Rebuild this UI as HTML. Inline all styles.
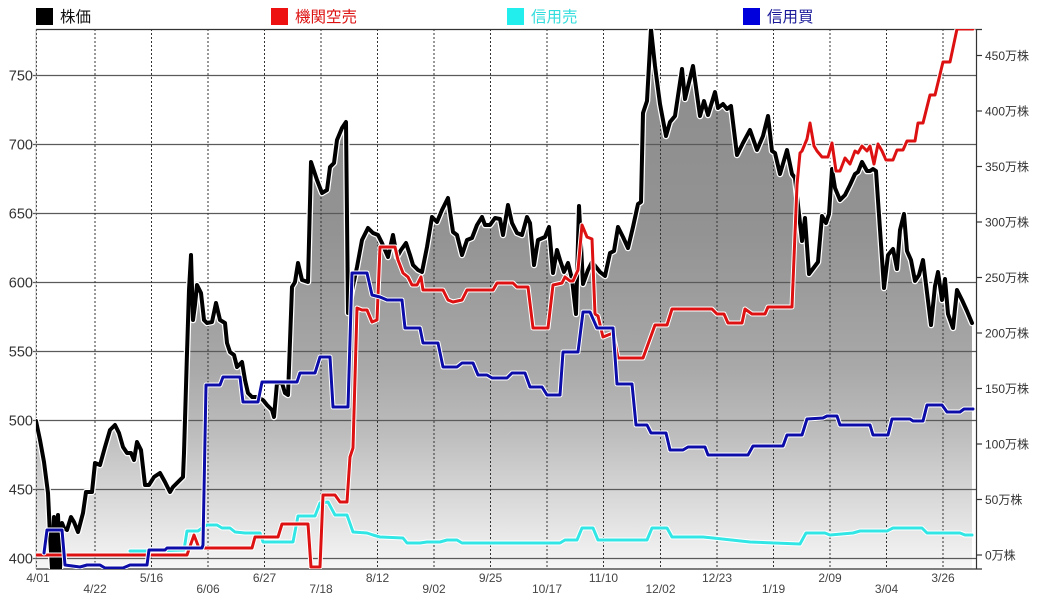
<!DOCTYPE html>
<html><head><meta charset="utf-8"><style>
html,body{margin:0;padding:0;background:#fff;}
svg{display:block;}
text{font-family:"Liberation Sans","Noto Sans CJK JP",sans-serif;}
</style></head><body>
<svg width="1047" height="611" viewBox="0 0 1047 611" xmlns="http://www.w3.org/2000/svg">
<defs>
<linearGradient id="g" gradientUnits="userSpaceOnUse" x1="0" y1="29" x2="0" y2="569">
<stop offset="0" stop-color="#8c8c8c"/>
<stop offset="0.38" stop-color="#939393"/>
<stop offset="0.63" stop-color="#a9a9a9"/>
<stop offset="0.75" stop-color="#bdbdbd"/>
<stop offset="0.87" stop-color="#d9d9d9"/>
<stop offset="1" stop-color="#f6f6f6"/>
</linearGradient>
<clipPath id="c"><rect x="36" y="29" width="940" height="540"/></clipPath>
</defs>
<rect width="1047" height="611" fill="#fff"/>

<!-- legend -->
<rect x="36" y="8" width="17" height="17" fill="#000"/>
<text x="60" y="22" font-size="15.5" fill="#111">株価</text>
<rect x="271" y="8" width="17" height="17" fill="#ee1111"/>
<text x="295" y="22" font-size="15.5" fill="#dd1111">機関空売</text>
<rect x="507" y="8" width="17" height="17" fill="#22eeee"/>
<text x="531" y="22" font-size="15.5" fill="#33dddd">信用売</text>
<rect x="743" y="8" width="17" height="17" fill="#0000dd"/>
<text x="767" y="22" font-size="15.5" fill="#1a1a99">信用買</text>

<g clip-path="url(#c)">
<polygon fill="url(#g)" points="36,421 40,440 44,462 48,493 50,535 52,569 54,517 56,569 58,515 60,569 62,523 64,528 67,530 71,517 74,522 78,532 83,513 86,492 92,492 95,463 100,465 105,447 110,430 115,425 119,433 123,447 127,453 131,453 134,460 137,442 141,450 145,485 149,485 154,477 160,473 165,482 170,492 173,487 178,482 183,477 184,453 187,353 189,290 191,255 193,320 195,305 197,285 201,293 204,320 207,323 212,322 216,303 220,320 225,323 227,343 230,352 234,355 237,367 242,362 245,380 248,393 252,397 257,397 263,400 267,405 272,410 274,417 277,383 282,383 285,393 288,395 292,287 295,282 298,263 302,280 308,282 311,162 317,180 322,193 327,190 330,167 334,163 337,140 342,128 346,122 348,313 352,290 357,267 362,240 368,228 373,233 378,235 382,243 388,257 393,235 397,257 401,250 406,243 410,255 413,265 418,270 422,272 427,247 432,217 437,222 442,210 448,198 453,232 457,235 462,255 467,240 472,238 477,225 482,217 485,225 490,225 495,218 500,219 503,235 508,205 512,223 517,233 522,235 527,217 530,223 534,265 538,240 545,237 549,227 553,273 557,250 560,260 564,272 568,263 572,279 576,314 579,206 583,284 588,270 592,262 600,272 605,276 610,253 614,251 618,227 623,237 628,248 633,227 638,204 641,202 643,113 647,101 651,29 655,66 660,104 666,136 670,122 675,116 682,69 685,99 693,66 700,116 704,101 708,115 715,92 718,108 723,104 727,109 731,106 737,155 743,143 750,130 757,150 763,136 768,116 772,151 775,153 780,174 787,150 792,174 795,178 802,241 805,218 809,274 818,262 822,216 826,223 829,214 832,169 835,188 840,200 845,195 850,185 855,174 858,172 862,162 867,171 870,171 873,169 876,171 884,288 888,255 893,249 897,269 900,230 904,214 907,251 911,260 915,281 919,275 923,260 931,325 935,286 938,272 942,300 945,279 948,314 953,328 957,290 962,300 967,311 972,323 972,569 36,569"/>
</g>

<!-- horizontal grid -->
<g stroke="#5a5a5a" stroke-width="1.3">
<line x1="33" y1="75.5" x2="976" y2="75.5"/>
<line x1="33" y1="144.5" x2="976" y2="144.5"/>
<line x1="33" y1="213.5" x2="976" y2="213.5"/>
<line x1="33" y1="282.5" x2="976" y2="282.5"/>
<line x1="33" y1="351.5" x2="976" y2="351.5"/>
<line x1="33" y1="420.5" x2="976" y2="420.5"/>
<line x1="33" y1="489.5" x2="976" y2="489.5"/>
<line x1="33" y1="558.5" x2="976" y2="558.5"/>
</g>
<!-- vertical dashed grid -->
<g stroke="#333" stroke-width="1" stroke-dasharray="2,2">
<line x1="36.5" y1="29" x2="36.5" y2="569"/>
<line x1="95" y1="29" x2="95" y2="569"/>
<line x1="151.5" y1="29" x2="151.5" y2="569"/>
<line x1="208" y1="29" x2="208" y2="569"/>
<line x1="264.5" y1="29" x2="264.5" y2="569"/>
<line x1="321" y1="29" x2="321" y2="569"/>
<line x1="377.5" y1="29" x2="377.5" y2="569"/>
<line x1="434" y1="29" x2="434" y2="569"/>
<line x1="490.5" y1="29" x2="490.5" y2="569"/>
<line x1="547" y1="29" x2="547" y2="569"/>
<line x1="603.5" y1="29" x2="603.5" y2="569"/>
<line x1="660.5" y1="29" x2="660.5" y2="569"/>
<line x1="717" y1="29" x2="717" y2="569"/>
<line x1="773.5" y1="29" x2="773.5" y2="569"/>
<line x1="830" y1="29" x2="830" y2="569"/>
<line x1="886.5" y1="29" x2="886.5" y2="569"/>
<line x1="943" y1="29" x2="943" y2="569"/>
</g>
<!-- borders -->
<g stroke="#333" stroke-width="1.2">
<line x1="36" y1="29.5" x2="982" y2="29.5"/>
<line x1="36" y1="569" x2="982" y2="569"/>
<line x1="976.5" y1="29" x2="976.5" y2="569"/>
</g>
<line x1="36" y1="29" x2="36" y2="569" stroke="#999" stroke-width="0.6"/>
<!-- right ticks -->
<g stroke="#333" stroke-width="1.2">
<line x1="976" y1="555" x2="982" y2="555"/>
<line x1="976" y1="499.5" x2="982" y2="499.5"/>
<line x1="976" y1="444" x2="982" y2="444"/>
<line x1="976" y1="388.5" x2="982" y2="388.5"/>
<line x1="976" y1="333" x2="982" y2="333"/>
<line x1="976" y1="277.5" x2="982" y2="277.5"/>
<line x1="976" y1="222" x2="982" y2="222"/>
<line x1="976" y1="166.5" x2="982" y2="166.5"/>
<line x1="976" y1="111" x2="982" y2="111"/>
<line x1="976" y1="55.5" x2="982" y2="55.5"/>
</g>

<g clip-path="url(#c)" fill="none" stroke-linejoin="round" stroke-linecap="round">
<!-- price -->
<polyline stroke="#fff" stroke-width="6.5" points="36,421 40,440 44,462 48,493 50,535 52,569 54,517 56,569 58,515 60,569 62,523 64,528 67,530 71,517 74,522 78,532 83,513 86,492 92,492 95,463 100,465 105,447 110,430 115,425 119,433 123,447 127,453 131,453 134,460 137,442 141,450 145,485 149,485 154,477 160,473 165,482 170,492 173,487 178,482 183,477 184,453 187,353 189,290 191,255 193,320 195,305 197,285 201,293 204,320 207,323 212,322 216,303 220,320 225,323 227,343 230,352 234,355 237,367 242,362 245,380 248,393 252,397 257,397 263,400 267,405 272,410 274,417 277,383 282,383 285,393 288,395 292,287 295,282 298,263 302,280 308,282 311,162 317,180 322,193 327,190 330,167 334,163 337,140 342,128 346,122 348,313 352,290 357,267 362,240 368,228 373,233 378,235 382,243 388,257 393,235 397,257 401,250 406,243 410,255 413,265 418,270 422,272 427,247 432,217 437,222 442,210 448,198 453,232 457,235 462,255 467,240 472,238 477,225 482,217 485,225 490,225 495,218 500,219 503,235 508,205 512,223 517,233 522,235 527,217 530,223 534,265 538,240 545,237 549,227 553,273 557,250 560,260 564,272 568,263 572,279 576,314 579,206 583,284 588,270 592,262 600,272 605,276 610,253 614,251 618,227 623,237 628,248 633,227 638,204 641,202 643,113 647,101 651,29 655,66 660,104 666,136 670,122 675,116 682,69 685,99 693,66 700,116 704,101 708,115 715,92 718,108 723,104 727,109 731,106 737,155 743,143 750,130 757,150 763,136 768,116 772,151 775,153 780,174 787,150 792,174 795,178 802,241 805,218 809,274 818,262 822,216 826,223 829,214 832,169 835,188 840,200 845,195 850,185 855,174 858,172 862,162 867,171 870,171 873,169 876,171 884,288 888,255 893,249 897,269 900,230 904,214 907,251 911,260 915,281 919,275 923,260 931,325 935,286 938,272 942,300 945,279 948,314 953,328 957,290 962,300 967,311 972,323"/>
<polyline stroke="#000" stroke-width="4" points="36,421 40,440 44,462 48,493 50,535 52,569 54,517 56,569 58,515 60,569 62,523 64,528 67,530 71,517 74,522 78,532 83,513 86,492 92,492 95,463 100,465 105,447 110,430 115,425 119,433 123,447 127,453 131,453 134,460 137,442 141,450 145,485 149,485 154,477 160,473 165,482 170,492 173,487 178,482 183,477 184,453 187,353 189,290 191,255 193,320 195,305 197,285 201,293 204,320 207,323 212,322 216,303 220,320 225,323 227,343 230,352 234,355 237,367 242,362 245,380 248,393 252,397 257,397 263,400 267,405 272,410 274,417 277,383 282,383 285,393 288,395 292,287 295,282 298,263 302,280 308,282 311,162 317,180 322,193 327,190 330,167 334,163 337,140 342,128 346,122 348,313 352,290 357,267 362,240 368,228 373,233 378,235 382,243 388,257 393,235 397,257 401,250 406,243 410,255 413,265 418,270 422,272 427,247 432,217 437,222 442,210 448,198 453,232 457,235 462,255 467,240 472,238 477,225 482,217 485,225 490,225 495,218 500,219 503,235 508,205 512,223 517,233 522,235 527,217 530,223 534,265 538,240 545,237 549,227 553,273 557,250 560,260 564,272 568,263 572,279 576,314 579,206 583,284 588,270 592,262 600,272 605,276 610,253 614,251 618,227 623,237 628,248 633,227 638,204 641,202 643,113 647,101 651,29 655,66 660,104 666,136 670,122 675,116 682,69 685,99 693,66 700,116 704,101 708,115 715,92 718,108 723,104 727,109 731,106 737,155 743,143 750,130 757,150 763,136 768,116 772,151 775,153 780,174 787,150 792,174 795,178 802,241 805,218 809,274 818,262 822,216 826,223 829,214 832,169 835,188 840,200 845,195 850,185 855,174 858,172 862,162 867,171 870,171 873,169 876,171 884,288 888,255 893,249 897,269 900,230 904,214 907,251 911,260 915,281 919,275 923,260 931,325 935,286 938,272 942,300 945,279 948,314 953,328 957,290 962,300 967,311 972,323"/>

<!-- cyan -->
<polyline stroke="#fff" stroke-width="5" points="130,551 147,551 184,550 187,531 198,531 202,528 207,525 217,525 222,528 230,528 235,532 245,533 260,533 263,542 293,542 298,516 315,516 320,503 328,502 335,515 347,515 353,532 367,533 373,535 380,537 403,538 407,543 420,543 427,542 440,542 447,540 457,540 462,543 560,543 565,540 577,540 582,528 593,528 598,540 647,540 652,528 667,528 672,537 703,537 713,538 750,542 800,544 806,533 825,533 830,535 853,533 860,531 887,531 893,528 922,528 927,533 960,533 965,535 972,535"/>
<polyline stroke="#33e6e6" stroke-width="3" points="130,551 147,551 184,550 187,531 198,531 202,528 207,525 217,525 222,528 230,528 235,532 245,533 260,533 263,542 293,542 298,516 315,516 320,503 328,502 335,515 347,515 353,532 367,533 373,535 380,537 403,538 407,543 420,543 427,542 440,542 447,540 457,540 462,543 560,543 565,540 577,540 582,528 593,528 598,540 647,540 652,528 667,528 672,537 703,537 713,538 750,542 800,544 806,533 825,533 830,535 853,533 860,531 887,531 893,528 922,528 927,533 960,533 965,535 972,535"/>

<!-- red -->
<polyline stroke="#fff" stroke-width="5" points="36,555 187,555 194,535 199,548 252,548 255,537 278,537 282,524 308,524 311,567 320,567 323,495 335,495 340,502 347,502 350,457 353,448 357,308 362,310 367,310 372,322 377,320 380,247 395,247 398,260 403,273 408,277 412,285 417,285 421,277 423,290 443,290 448,300 453,302 462,300 467,290 493,290 497,283 513,283 517,287 528,287 533,328 548,328 553,285 562,283 565,277 570,281 573,281 578,270 582,225 587,237 592,239 595,314 598,316 603,337 613,333 618,358 643,358 655,325 667,325 672,309 712,309 717,314 724,314 728,323 742,323 745,309 752,314 765,314 768,307 792,307 797,185 800,153 802,151 807,139 810,123 814,146 817,151 822,157 828,157 832,143 836,171 840,171 845,158 850,164 855,151 858,153 862,146 867,151 870,146 874,164 878,144 882,151 886,160 893,160 897,150 903,150 907,141 915,141 918,123 923,123 930,95 935,95 943,62 950,62 957,29 973,29"/>
<polyline stroke="#dd1111" stroke-width="3" points="36,555 187,555 194,535 199,548 252,548 255,537 278,537 282,524 308,524 311,567 320,567 323,495 335,495 340,502 347,502 350,457 353,448 357,308 362,310 367,310 372,322 377,320 380,247 395,247 398,260 403,273 408,277 412,285 417,285 421,277 423,290 443,290 448,300 453,302 462,300 467,290 493,290 497,283 513,283 517,287 528,287 533,328 548,328 553,285 562,283 565,277 570,281 573,281 578,270 582,225 587,237 592,239 595,314 598,316 603,337 613,333 618,358 643,358 655,325 667,325 672,309 712,309 717,314 724,314 728,323 742,323 745,309 752,314 765,314 768,307 792,307 797,185 800,153 802,151 807,139 810,123 814,146 817,151 822,157 828,157 832,143 836,171 840,171 845,158 850,164 855,151 858,153 862,146 867,151 870,146 874,164 878,144 882,151 886,160 893,160 897,150 903,150 907,141 915,141 918,123 923,123 930,95 935,95 943,62 950,62 957,29 973,29"/>

<!-- blue -->
<polyline stroke="#fff" stroke-width="5" points="44,553 47,530 62,530 65,565 80,567 87,565 100,565 105,568 123,568 130,565 147,565 149,550 165,550 167,548 186,548 202,548 203,545 206,385 220,385 223,377 240,377 243,402 258,402 262,382 297,382 300,373 315,373 320,357 330,357 333,407 348,407 352,273 367,273 372,295 380,297 387,300 402,300 405,328 420,328 423,343 438,343 443,367 457,367 462,363 473,363 478,375 487,375 492,378 507,378 512,373 525,373 530,387 542,387 547,395 560,395 563,352 578,352 583,312 590,312 597,328 613,328 617,384 632,384 636,425 647,425 651,433 666,433 670,450 683,450 688,447 705,447 708,455 748,455 753,446 783,446 787,435 802,435 807,419 823,418 827,416 837,416 840,425 870,425 873,435 888,435 892,419 910,419 913,421 923,421 927,405 942,405 947,412 960,412 964,409 973,409"/>
<polyline stroke="#0c0ca8" stroke-width="3" points="44,553 47,530 62,530 65,565 80,567 87,565 100,565 105,568 123,568 130,565 147,565 149,550 165,550 167,548 186,548 202,548 203,545 206,385 220,385 223,377 240,377 243,402 258,402 262,382 297,382 300,373 315,373 320,357 330,357 333,407 348,407 352,273 367,273 372,295 380,297 387,300 402,300 405,328 420,328 423,343 438,343 443,367 457,367 462,363 473,363 478,375 487,375 492,378 507,378 512,373 525,373 530,387 542,387 547,395 560,395 563,352 578,352 583,312 590,312 597,328 613,328 617,384 632,384 636,425 647,425 651,433 666,433 670,450 683,450 688,447 705,447 708,455 748,455 753,446 783,446 787,435 802,435 807,419 823,418 827,416 837,416 840,425 870,425 873,435 888,435 892,419 910,419 913,421 923,421 927,405 942,405 947,412 960,412 964,409 973,409"/>
</g>

<!-- left axis labels -->
<g font-size="14.5" fill="#333" text-anchor="end">
<text x="33" y="80.5">750</text>
<text x="33" y="149.5">700</text>
<text x="33" y="218.5">650</text>
<text x="33" y="287.5">600</text>
<text x="33" y="356.5">550</text>
<text x="33" y="425.5">500</text>
<text x="33" y="494.5">450</text>
<text x="33" y="563.5">400</text>
</g>
<!-- right axis labels -->
<g font-size="12" fill="#333">
<text x="985" y="559.5">0万株</text>
<text x="985" y="504">50万株</text>
<text x="985" y="448.5">100万株</text>
<text x="985" y="393">150万株</text>
<text x="985" y="337.5">200万株</text>
<text x="985" y="282">250万株</text>
<text x="985" y="226.5">300万株</text>
<text x="985" y="171">350万株</text>
<text x="985" y="115.5">400万株</text>
<text x="985" y="60">450万株</text>
</g>
<!-- x labels -->
<g font-size="12" fill="#444" text-anchor="middle">
<text x="38" y="582">4/01</text>
<text x="95" y="593">4/22</text>
<text x="151.5" y="582">5/16</text>
<text x="208" y="593">6/06</text>
<text x="264.5" y="582">6/27</text>
<text x="321" y="593">7/18</text>
<text x="377.5" y="582">8/12</text>
<text x="434" y="593">9/02</text>
<text x="490.5" y="582">9/25</text>
<text x="547" y="593">10/17</text>
<text x="603.5" y="582">11/10</text>
<text x="660.5" y="593">12/02</text>
<text x="717" y="582">12/23</text>
<text x="773.5" y="593">1/19</text>
<text x="830" y="582">2/09</text>
<text x="886.5" y="593">3/04</text>
<text x="943" y="582">3/26</text>
</g>
</svg>
</body></html>
